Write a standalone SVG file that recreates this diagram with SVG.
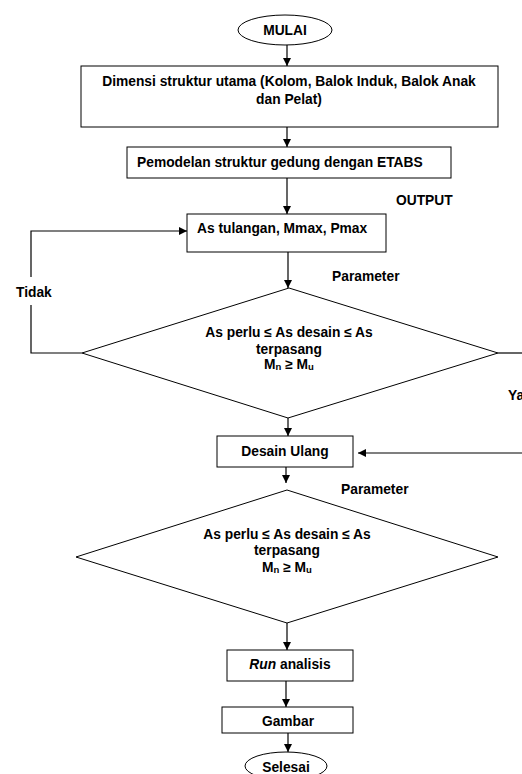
<svg xmlns="http://www.w3.org/2000/svg" width="522" height="774" viewBox="0 0 522 774">
<style>
.s{fill:#fff;stroke:#000;stroke-width:1}
.t{font-family:"Liberation Sans",Arial,sans-serif;font-weight:bold;font-size:13.8px;fill:#000}
.m{text-anchor:middle}
.c{fill:none;stroke:#000;stroke-width:1.2}
.sub{font-size:9.5px}
</style>
<defs>
<marker id="a" viewBox="0 0 10 10" refX="10" refY="5" markerWidth="8" markerHeight="8" markerUnits="userSpaceOnUse" orient="auto">
<path d="M0,0L10,5L0,10z" fill="#000"/>
</marker>
</defs>
<rect width="522" height="774" fill="#fff"/>
<g id="connectors">
<line class="c" x1="287" y1="45" x2="287" y2="66" marker-end="url(#a)"/>
<line class="c" x1="287" y1="127" x2="287" y2="147" marker-end="url(#a)"/>
<line class="c" x1="287" y1="178" x2="287" y2="214" marker-end="url(#a)"/>
<line class="c" x1="288" y1="252" x2="288" y2="288" marker-end="url(#a)"/>
<polyline class="c" points="82,353 31,353 31,231 187,231" marker-end="url(#a)"/>
<line class="c" x1="498" y1="353" x2="522" y2="353"/>
<polyline class="c" points="522,453 358,453" marker-end="url(#a)"/>
<line class="c" x1="288" y1="418" x2="288" y2="436" marker-end="url(#a)"/>
<line class="c" x1="286" y1="467" x2="286" y2="483" marker-end="url(#a)"/>
<line class="c" x1="287" y1="623" x2="287" y2="650" marker-end="url(#a)"/>
<line class="c" x1="286" y1="681" x2="286" y2="707" marker-end="url(#a)"/>
<line class="c" x1="288" y1="733" x2="288" y2="752" marker-end="url(#a)"/>
<rect x="12" y="277" width="44" height="28" fill="#fff"/>
<text class="t" x="16" y="297">Tidak</text>
<text class="t" x="508" y="400">Ya</text>
<text class="t" x="396" y="205">OUTPUT</text>
<text class="t" x="332" y="281">Parameter</text>
<text class="t" x="341" y="494">Parameter</text>
</g>
<g id="mulai">
<ellipse class="s" cx="285" cy="30" rx="47" ry="15"/>
<text class="t m" x="285" y="35">MULAI</text>
</g>
<g id="dimensi">
<rect class="s" x="81" y="66" width="417" height="61"/>
<text class="t m" x="289" y="86">Dimensi struktur utama (Kolom, Balok Induk, Balok Anak</text>
<text class="t m" x="289" y="104">dan Pelat)</text>
</g>
<g id="pemodelan">
<rect class="s" x="127" y="147" width="324" height="31"/>
<text class="t" x="137" y="167">Pemodelan struktur gedung dengan ETABS</text>
</g>
<g id="as-tulangan">
<rect class="s" x="187" y="214" width="199" height="38"/>
<text class="t" x="197" y="233">As tulangan, Mmax, Pmax</text>
</g>
<g id="cek1">
<polygon class="s" points="289,288 498,353 288,418 82,353"/>
<text class="t m" x="289" y="337">As perlu ≤ As desain ≤ As</text>
<text class="t m" x="289" y="354">terpasang</text>
<text class="t m" x="289" y="369">M<tspan class="sub" dy="1">n</tspan><tspan dy="-1"> ≥ M</tspan><tspan class="sub" dy="1">u</tspan></text>
</g>
<g id="desain-ulang">
<rect class="s" x="217" y="436" width="136" height="31"/>
<text class="t m" x="285" y="456">Desain Ulang</text>
</g>
<g id="cek2">
<polygon class="s" points="287,490 498,557 287,623 76,557"/>
<text class="t m" x="287" y="539">As perlu ≤ As desain ≤ As</text>
<text class="t m" x="287" y="555">terpasang</text>
<text class="t m" x="287" y="572">M<tspan class="sub" dy="1">n</tspan><tspan dy="-1"> ≥ M</tspan><tspan class="sub" dy="1">u</tspan></text>
</g>
<g id="run">
<rect class="s" x="227" y="650" width="126" height="31"/>
<text class="t m" x="290" y="669"><tspan font-style="italic">Run</tspan> analisis</text>
</g>
<g id="gambar">
<rect class="s" x="222" y="707" width="131" height="26"/>
<text class="t m" x="288" y="726">Gambar</text>
</g>
<g id="selesai">
<ellipse class="s" cx="286" cy="766" rx="41" ry="14"/>
<text class="t m" x="286" y="772">Selesai</text>
</g>
</svg>
